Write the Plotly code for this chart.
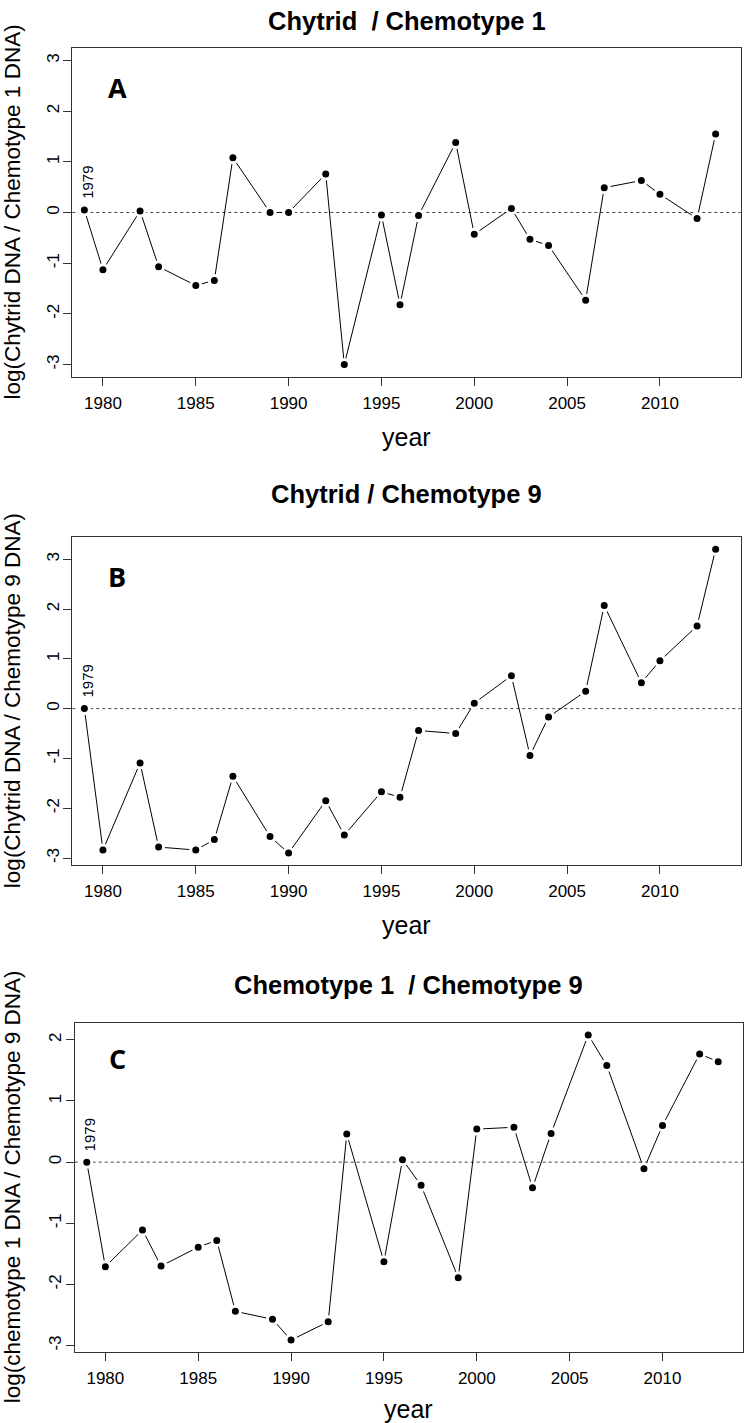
import plotly.graph_objects as go

# ---------------- data ----------------
years = [1979, 1980, 1982, 1983, 1985, 1986, 1987, 1989, 1990, 1992, 1993, 1995, 1996,
         1997, 1999, 2000, 2002, 2003, 2004, 2006, 2007, 2009, 2010, 2012, 2013]

chytrid_chemo1 = [0.05, -1.13, 0.03, -1.07, -1.44, -1.34, 1.08, 0.00, 0.00, 0.76, -3.00, -0.05, -1.82,
                  -0.06, 1.38, -0.43, 0.08, -0.53, -0.65, -1.73, 0.49, 0.63, 0.36, -0.12, 1.55]

chytrid_chemo9 = [0.00, -2.84, -1.09, -2.78, -2.84, -2.63, -1.36, -2.57, -2.90, -1.85, -2.54, -1.67, -1.78,
                  -0.44, -0.50, 0.11, 0.66, -0.94, -0.17, 0.35, 2.07, 0.52, 0.96, 1.66, 3.20]

chemo1_chemo9 = [0.00, -1.71, -1.11, -1.70, -1.39, -1.28, -2.44, -2.57, -2.91, -2.61, 0.46, -1.63, 0.04,
                 -0.38, -1.89, 0.54, 0.57, -0.42, 0.47, 2.08, 1.58, -0.11, 0.60, 1.77, 1.64]

panel_titles = ["Chytrid  / Chemotype 1", "Chytrid / Chemotype 9", "Chemotype 1  / Chemotype 9"]
panel_letters = ["A", "B", "C"]
y_titles = ["log(Chytrid DNA / Chemotype 1 DNA)",
            "log(Chytrid DNA / Chemotype 9 DNA)",
            "log(chemotype 1 DNA / Chemotype 9 DNA)"]
x_title = "year"
x_tickvals = [1980, 1985, 1990, 1995, 2000, 2005, 2010]
y_tickvals_ab = [-3, -2, -1, 0, 1, 2, 3]
y_tickvals_c = [-3, -2, -1, 0, 1, 2]
first_year_label = "1979"

# ---------------- layout geometry ----------------
W, H = 744, 1423
FONT = "Liberation Sans, Arial, Helvetica, sans-serif"

def px_x(p):
    return p / W

def px_y(p):
    return 1 - p / H

# pixel boxes: (left, right, top, bottom)
boxes = [(72.3, 740.7, 48.3, 376.7),
         (72.3, 740.7, 537.3, 865.0),
         (74.7, 743.3, 1022.7, 1351.7)]
y_ranges = [[-3.24, 3.24], [-3.14, 3.44], [-3.10, 2.28]]
x_range = [1978.35, 2014.35]
title_y = [21, 494, 985]
xtitle_offset = [60, 60, 57]

series = [chytrid_chemo1, chytrid_chemo9, chemo1_chemo9]
ytick_sets = [y_tickvals_ab, y_tickvals_ab, y_tickvals_c]

fig = go.Figure()
annotations = []
shapes = []

for i in range(3):
    l, r, t, b = boxes[i]
    sfx = "" if i == 0 else str(i + 1)
    xa = "x" + sfx
    ya = "y" + sfx

    fig.add_trace(go.Scatter(
        x=years, y=series[i], mode="lines+markers",
        xaxis=xa, yaxis=ya,
        line=dict(color="black", width=1),
        marker=dict(color="black", size=10, line=dict(color="white", width=3)),
        showlegend=False, hoverinfo="x+y",
    ))

    common_axis = dict(
        showline=True, linecolor="#333333", linewidth=1, mirror=True,
        ticks="outside", ticklen=8, tickwidth=1, tickcolor="#333333",
        showgrid=False, zeroline=False,
        tickfont=dict(family=FONT, size=17, color="black"),
    )
    fig.update_layout(**{
        ("xaxis" + sfx): dict(
            domain=[px_x(l), px_x(r)], anchor=ya, range=x_range,
            tickmode="array", tickvals=x_tickvals,
            ticktext=[str(v) for v in x_tickvals],
            ticklabelstandoff=3,
            **common_axis),
        ("yaxis" + sfx): dict(
            domain=[px_y(b), px_y(t)], anchor=xa, range=y_ranges[i],
            tickmode="array", tickvals=ytick_sets[i],
            ticktext=[str(v) for v in ytick_sets[i]],
            tickangle=-90, ticklabelstandoff=-2,
            **common_axis),
    })

    # dotted zero reference line
    shapes.append(dict(type="line", xref=xa + " domain", yref=ya,
                       x0=0, x1=1, y0=0, y1=0, layer="below",
                       line=dict(color="#444444", width=1, dash="dot")))

    # panel title
    annotations.append(dict(text="<b>" + panel_titles[i] + "</b>", xref="paper", yref="paper",
                            x=px_x((l + r) / 2), y=px_y(title_y[i]),
                            xanchor="center", yanchor="middle", showarrow=False,
                            font=dict(family=FONT, size=25.5, color="black")))
    # panel letter
    annotations.append(dict(text="<b>" + panel_letters[i] + "</b>", xref="paper", yref="paper",
                            x=px_x(117), y=px_y(t + 39 if i != 2 else t + 36),
                            xanchor="center", yanchor="middle", showarrow=False,
                            font=dict(family="Open Sans, sans-serif", size=27, color="black")))
    # x axis title
    annotations.append(dict(text=x_title, xref="paper", yref="paper",
                            x=px_x((l + r) / 2), y=px_y(b + xtitle_offset[i]),
                            xanchor="center", yanchor="middle", showarrow=False,
                            font=dict(family=FONT, size=25, color="black")))
    # y axis title
    annotations.append(dict(text=y_titles[i], xref="paper", yref="paper",
                            x=px_x(12), y=px_y((t + b) / 2), textangle=-90,
                            xanchor="center", yanchor="middle", showarrow=False,
                            font=dict(family=FONT, size=22.5, color="black")))
    # first-year label
    annotations.append(dict(text=first_year_label, xref=xa, yref=ya,
                            x=years[0], y=series[i][0], textangle=-90,
                            xanchor="center", yanchor="bottom", xshift=3, yshift=9,
                            showarrow=False,
                            font=dict(family=FONT, size=15, color="black")))

fig.update_layout(
    width=W, height=H,
    margin=dict(l=0, r=0, t=0, b=0),
    paper_bgcolor="white", plot_bgcolor="white",
    annotations=annotations, shapes=shapes,
    showlegend=False,
)

fig.write_html("out.html",
               config={"displayModeBar": False},
               post_script="document.body.style.margin='0';document.body.style.overflow='hidden';")
